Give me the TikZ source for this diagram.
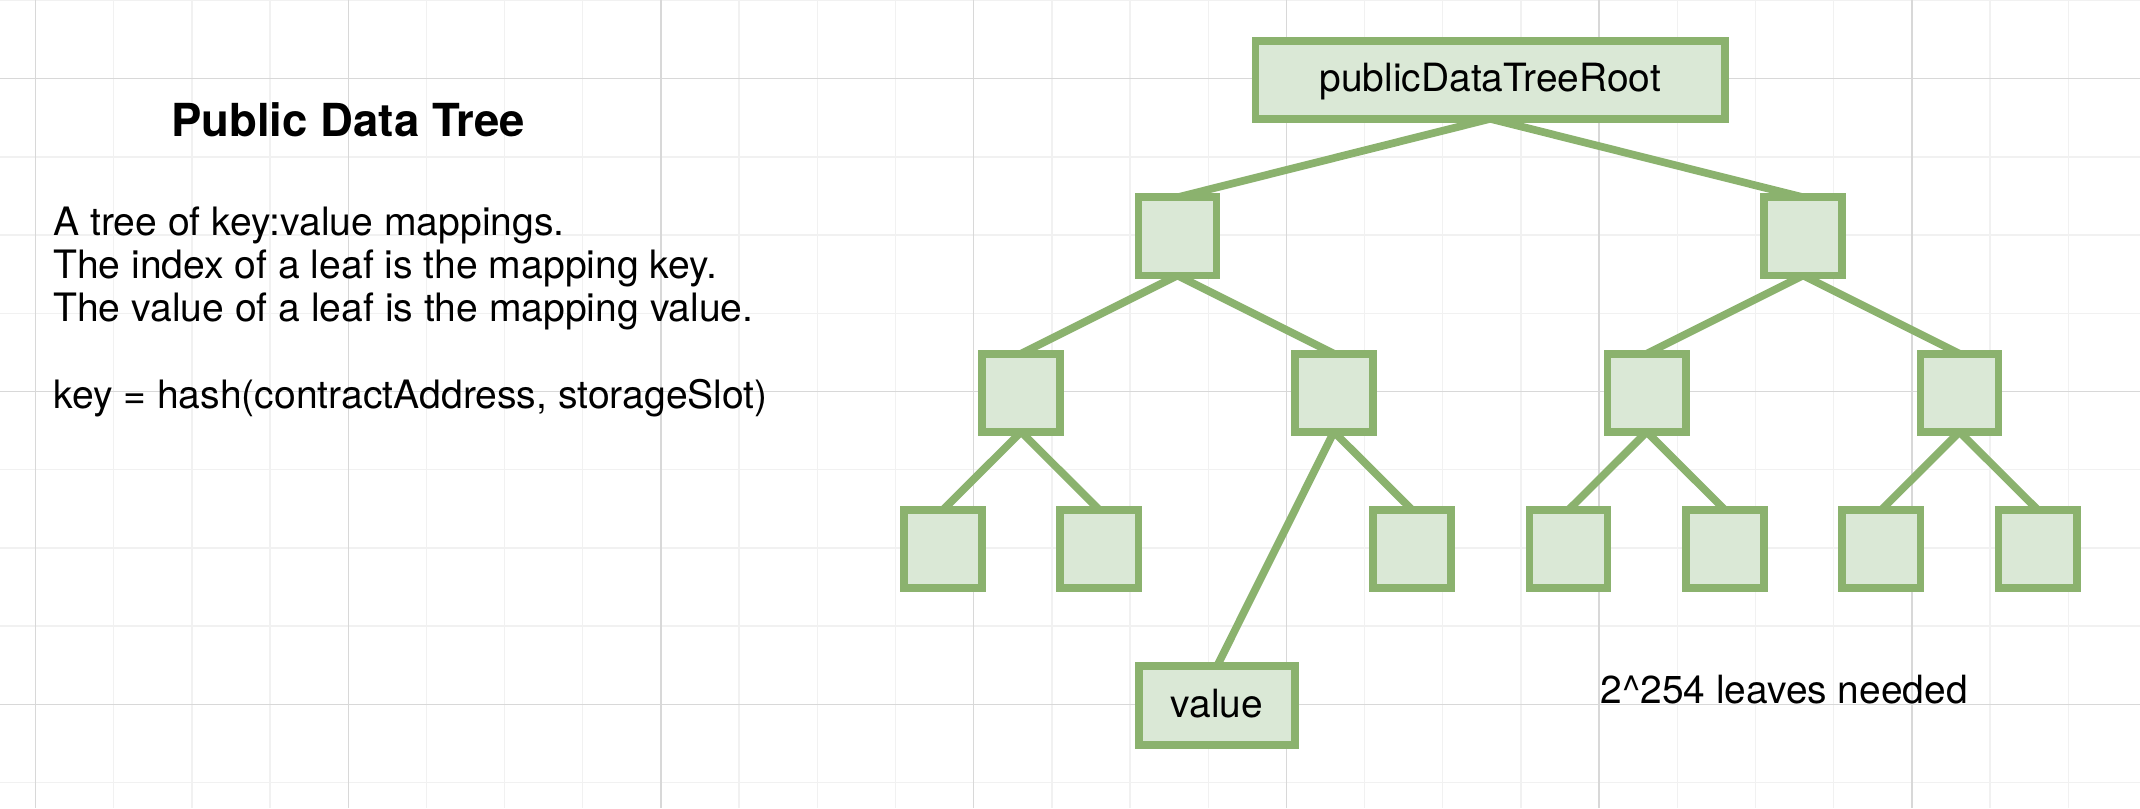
\documentclass[tikz,border=0pt]{standalone}
\usepackage{fontspec}
\setmainfont{TeX Gyre Heros}
\definecolor{gstroke}{RGB}{139,178,110}
\definecolor{gfill}{RGB}{218,232,214}
\definecolor{gridminor}{RGB}{241,241,241}
\definecolor{gridmajor}{RGB}{216,216,216}
\pgfdeclarelayer{gridlayer}
\pgfdeclarelayer{edgelayer}
\pgfsetlayers{gridlayer,edgelayer,main}
\begin{document}
\begin{tikzpicture}[x=1pt,y=-1pt,
  box/.style={draw=gstroke, fill=gfill, line width=7.7pt, inner sep=0pt, outer sep=0pt,
    minimum width=78.2pt, minimum height=78.2pt},
  labelbox/.style={box, font=\fontsize{38.9}{46}\selectfont, text height=29pt, text depth=5pt},
  link/.style={draw=gstroke, line width=7.7pt},
  plaintext/.style={inner sep=0pt, outer sep=0pt, font=\fontsize{39.1}{43.3}\selectfont},
  minorline/.style={draw=gridminor, line width=1.4pt},
  majorline/.style={draw=gridmajor, line width=1.4pt}]
\useasboundingbox (0,0) rectangle (2140,808);

% grid
\begin{pgfonlayer}{gridlayer}
\fill[white] (0,0) rectangle (2140,808);
\begin{scope}
\clip (0,0) rectangle (2140,808);
\foreach \i in {0,...,26} {\draw[minorline] ({35.5+78.18*\i},0) -- ({35.5+78.18*\i},808);}
\foreach \j in {0,...,10} {\draw[minorline] (0,{0.5+78.2*\j}) -- (2140,{0.5+78.2*\j});}
\foreach \i in {0,4,...,24} {\draw[majorline] ({35.5+78.18*\i},0) -- ({35.5+78.18*\i},808);}
\foreach \j in {1,5,9} {\draw[majorline] (0,{0.5+78.2*\j}) -- (2140,{0.5+78.2*\j});}
\end{scope}
\end{pgfonlayer}

% left text
\node[plaintext, font=\bfseries\fontsize{45.5}{54}\selectfont, anchor=base] (title) at (348.3,136.7) {Public Data Tree};
\node[plaintext, anchor=base west] (desc) at (53.3,235) {\vtop{\hbox{A tree of key:value mappings.}\hbox{The index of a leaf is the mapping key.}\hbox{The value of a leaf is the mapping value.}\hbox{}\hbox{key = hash(contractAddress, storageSlot)}}};

% tree
\node[labelbox, minimum width=469.6pt, minimum height=77.6pt] (root) at (1490.3,80) {publicDataTreeRoot};
\node[box] (a) at (1177.5,236.4) {};
\node[box] (b) at (1803.1,236.4) {};
\node[box] (aa) at (1021.1,392.8) {};
\node[box] (ab) at (1333.9,392.8) {};
\node[box] (ba) at (1646.7,392.8) {};
\node[box] (bb) at (1959.5,392.8) {};
\node[box] (aaa) at (942.9,549.0) {};
\node[box] (aab) at (1099.3,549.0) {};
\node[box] (abb) at (1412.1,549.0) {};
\node[box] (baa) at (1568.5,549.0) {};
\node[box] (bab) at (1724.9,549.0) {};
\node[box] (bba) at (1881.3,549.0) {};
\node[box] (bbb) at (2037.7,549.0) {};
\node[labelbox, minimum width=156.4pt, minimum height=78.5pt] (val) at (1217,705.4) {value};

\node[plaintext, font=\fontsize{38.9}{46}\selectfont, anchor=base west] (note) at (1600.6,703.3) {2\textasciicircum254 leaves needed};

\begin{pgfonlayer}{edgelayer}
\draw[link] (root.south) -- (a.north);
\draw[link] (root.south) -- (b.north);
\draw[link] (a.south) -- (aa.north);
\draw[link] (a.south) -- (ab.north);
\draw[link] (b.south) -- (ba.north);
\draw[link] (b.south) -- (bb.north);
\draw[link] (aa.south) -- (aaa.north);
\draw[link] (aa.south) -- (aab.north);
\draw[link] (ab.south) -- (val.north);
\draw[link] (ab.south) -- (abb.north);
\draw[link] (ba.south) -- (baa.north);
\draw[link] (ba.south) -- (bab.north);
\draw[link] (bb.south) -- (bba.north);
\draw[link] (bb.south) -- (bbb.north);
\end{pgfonlayer}
\end{tikzpicture}
\end{document}
